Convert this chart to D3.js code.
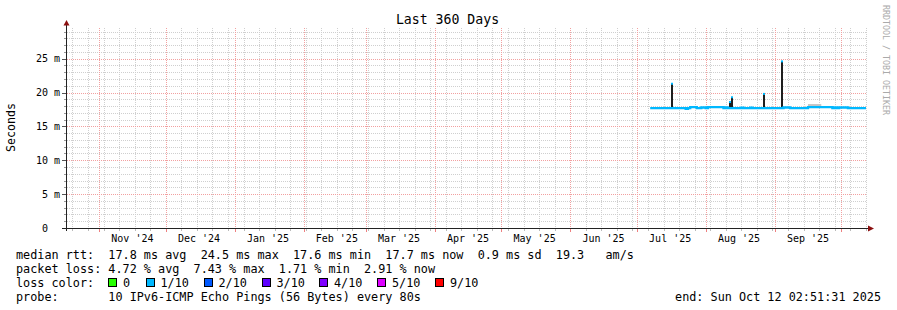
<!DOCTYPE html>
<html>
<head>
<meta charset="utf-8">
<script src="https://cdn.jsdelivr.net/npm/d3@7"></script>
<style>
  body { margin: 0; background: #fff; }
  svg text { font-family: "DejaVu Sans Mono", monospace; white-space: pre; fill: #000; }
</style>
</head>
<body>
<div id="chart"></div>
<script>
// time span of the graph (360 days)
var startTime = "2024-10-17T02:51:31Z",
	endTime = "2025-10-12T02:51:31Z";

var yTicks = [0, 5, 10, 15, 20, 25];
var yTickLabels = ["0  ", "5 m", "10 m", "15 m", "20 m", "25 m"];

// daily median rtt in ms, starting 2025-07-07
var medianStart = "2025-07-07";
var medianValues = [
	17.7, 17.7, 17.7, 17.7, 17.7, 17.7, 17.7, 17.7, 17.7, 17.7,
	17.7, 17.7, 17.7, 17.7, 17.7, 17.7, 17.6, 17.7, 17.85, 17.85,
	17.85, 17.7, 17.7, 17.8, 17.8, 17.7, 17.85, 17.85, 17.85, 17.85,
	17.85, 17.85, 17.85, 17.7, 17.8, 17.7, 17.7, 17.7, 17.7, 17.7,
	17.7, 17.75, 17.7, 17.7, 17.7, 17.75, 17.7, 17.7, 17.7, 17.7,
	17.7, 17.7, 17.7, 17.7, 17.7, 17.7, 17.7, 17.7, 17.7, 17.7,
	17.8, 17.8, 17.8, 17.7, 17.7, 17.7, 17.7, 17.7, 17.7, 17.7,
	17.7, 17.85, 17.85, 17.85, 17.85, 17.85, 17.85, 17.85, 17.85, 17.85,
	17.85, 17.85, 17.7, 17.8, 17.7, 17.8, 17.8, 17.8, 17.8, 17.7,
	17.7, 17.7, 17.7, 17.7, 17.7, 17.7, 17.7
];

// short bursts of high rtt (smoke)
var spikeDates = ["2025-07-17T00:00Z", "2025-08-12T00:00Z", "2025-08-13T00:00Z", "2025-08-27T00:00Z", "2025-09-04T12:00Z"];
var spikeValues = [21.3, 18.6, 19.3, 19.8, 24.6];

// wider grey smoke band
var smokeFrom = ["2025-09-16"], smokeTo = ["2025-09-22"], smokeTop = [18.3];

var lossLabels = ["0", "1/10", "2/10", "3/10", "4/10", "5/10", "9/10"];
var lossColors = ["#26ff00", "#00b8ff", "#0059ff", "#5e00ff", "#7e00ff", "#dd00ff", "#ff0000"];

var legendRtt = "median rtt:  17.8 ms avg  24.5 ms max  17.6 ms min  17.7 ms now  0.9 ms sd  19.3   am/s";
var legendLoss = "packet loss: 4.72 % avg  7.43 % max  1.71 % min  2.91 % now";
var legendProbe = "probe:       10 IPv6-ICMP Echo Pings (56 Bytes) every 80s";
var legendEnd = "end: Sun Oct 12 02:51:31 2025";

var width = 897,
	height = 310;

var t0 = new Date(startTime), t1 = new Date(endTime);

var x = d3.scaleUtc()
	.domain([t0, t1])
	.range([66, 866]);

var y = d3.scaleLinear()
	.domain([0, 29.53])
	.range([228, 28]);

var svg = d3.select("#chart").append("svg")
	.attr("width", width)
	.attr("height", height);

function px(v) { return Math.round(v) + 0.5; }

// grid
var grid = svg.append("g").attr("shape-rendering", "crispEdges");

d3.range(1, 30).filter(function(v) { return v % 5 != 0; }).forEach(function(v) {
	grid.append("line")
		.attr("x1", 67).attr("x2", 866)
		.attr("y1", px(y(v))).attr("y2", px(y(v)))
		.attr("stroke", "#cfcfcf").attr("stroke-dasharray", "1,1");
	grid.append("line")
		.attr("x1", 64).attr("x2", 66)
		.attr("y1", px(y(v))).attr("y2", px(y(v)))
		.attr("stroke", "#999");
});

var weeks = d3.utcSunday.range(t0, t1);
weeks.forEach(function(d) {
	grid.append("line")
		.attr("x1", px(x(d))).attr("x2", px(x(d)))
		.attr("y1", 28).attr("y2", 228)
		.attr("stroke", "#cfcfcf").attr("stroke-dasharray", "1,1");
	grid.append("line")
		.attr("x1", px(x(d))).attr("x2", px(x(d)))
		.attr("y1", 228).attr("y2", 231)
		.attr("stroke", "#bbb");
});

var months = d3.utcMonth.range(t0, t1);
months.forEach(function(d) {
	grid.append("line")
		.attr("x1", px(x(d))).attr("x2", px(x(d)))
		.attr("y1", 28).attr("y2", 228)
		.attr("stroke", "#f2a0a0").attr("stroke-dasharray", "1,1");
	grid.append("line")
		.attr("x1", px(x(d))).attr("x2", px(x(d)))
		.attr("y1", 228).attr("y2", 232)
		.attr("stroke", "#ee8080");
});

yTicks.forEach(function(v, i) {
	if (v > 0) {
		grid.append("line")
			.attr("x1", 67).attr("x2", 866)
			.attr("y1", px(y(v))).attr("y2", px(y(v)))
			.attr("stroke", "#f2a0a0").attr("stroke-dasharray", "1,1");
	}
	grid.append("line")
		.attr("x1", 62).attr("x2", 66)
		.attr("y1", px(y(v))).attr("y2", px(y(v)))
		.attr("stroke", "#555");
	svg.append("text")
		.attr("x", 60)
		.attr("y", y(v) + 3.5)
		.attr("text-anchor", "end")
		.style("font-size", "10px")
		.text(yTickLabels[i]);
});

// month labels sit in the middle of each month
var labelMonths = d3.utcMonth.range(d3.utcMonth.floor(t0), t1)
	.map(function(d) { return d3.utcDay.offset(d, 15); })
	.filter(function(d) { return d > t0 && d < t1; });

svg.append("g").selectAll("text")
	.data(labelMonths)
  .enter().append("text")
	.attr("x", function(d) { return x(d); })
	.attr("y", 241.5)
	.attr("text-anchor", "middle")
	.style("font-size", "10px")
	.text(function(d) { return d3.utcFormat("%b '%y")(d3.utcDay.offset(d, -15)); });

// smoke
var smoke = svg.append("g");
smokeFrom.forEach(function(d, i) {
	smoke.append("rect")
		.attr("x", x(new Date(d)))
		.attr("width", x(new Date(smokeTo[i])) - x(new Date(d)))
		.attr("y", y(smokeTop[i]))
		.attr("height", y(17.8) - y(smokeTop[i]))
		.attr("fill", "#c4c4c4");
});

smoke.selectAll(".spike")
	.data(spikeDates)
  .enter().append("rect")
	.attr("class", "spike")
	.attr("x", function(d) { return Math.round(x(new Date(d))) - 1; })
	.attr("width", 2)
	.attr("y", function(d, i) { return y(spikeValues[i]); })
	.attr("height", function(d, i) { return y(17.6) - y(spikeValues[i]); })
	.attr("fill", "#1e1e1e");

// median line
var mStart = new Date(medianStart + "T00:00Z");
var medianData = medianValues.map(function(v, i) { return [d3.utcDay.offset(mStart, i), v]; });
medianData.push([t1, medianValues[medianValues.length - 1]]);

var line = d3.line()
	.x(function(d) { return x(d[0]); })
	.y(function(d) { return y(d[1]); })
	.curve(d3.curveStepAfter);

svg.append("path")
	.datum(medianData)
	.attr("d", line)
	.attr("fill", "none")
	.attr("stroke", lossColors[1])
	.attr("stroke-width", 2.4);

smoke.selectAll(".tip")
	.data(spikeDates)
  .enter().append("rect")
	.attr("class", "tip")
	.attr("x", function(d) { return Math.round(x(new Date(d))) - 1; })
	.attr("width", 2)
	.attr("y", function(d, i) { return y(spikeValues[i]) - 1; })
	.attr("height", 2)
	.attr("fill", lossColors[1]);

// axes
svg.append("line")
	.attr("x1", 66.5).attr("x2", 66.5)
	.attr("y1", 231).attr("y2", 24)
	.attr("stroke", "#222");
svg.append("line")
	.attr("x1", 62).attr("x2", 869)
	.attr("y1", 228.5).attr("y2", 228.5)
	.attr("stroke", "#222");
svg.append("path")
	.attr("d", "M63.5,25.5 L66.5,20 L69.5,25.5 Z")
	.attr("fill", "#8b1010");
svg.append("path")
	.attr("d", "M868,225.5 L874,228.5 L868,231.5 Z")
	.attr("fill", "#8b1010");

// titles
svg.append("text")
	.attr("x", 447.5)
	.attr("y", 24)
	.attr("text-anchor", "middle")
	.style("font-size", "13.2px")
	.text("Last 360 Days");

svg.append("text")
	.attr("transform", "translate(14.5,127.5) rotate(-90)")
	.attr("text-anchor", "middle")
	.style("font-size", "11.6px")
	.text("Seconds");

svg.append("text")
	.attr("transform", "translate(883,5) rotate(90)")
	.style("font-size", "8.3px")
	.style("fill", "#aaa")
	.text("RRDTOOL / TOBI OETIKER");

// legend
var legend = svg.append("g").style("font-size", "11.8px");

legend.append("text").attr("x", 16).attr("y", 258.5).text(legendRtt);
legend.append("text").attr("x", 16).attr("y", 272.5).text(legendLoss);
legend.append("text").attr("x", 16).attr("y", 286.5).text("loss color:");
legend.append("text").attr("x", 16).attr("y", 300.5).text(legendProbe);
legend.append("text").attr("x", 881).attr("y", 300.5).attr("text-anchor", "end").text(legendEnd);

var boxX = [108, 145.5, 203.5, 261.5, 319, 377, 435];
lossLabels.forEach(function(l, i) {
	legend.append("rect")
		.attr("x", Math.round(boxX[i]) + 0.5)
		.attr("y", 278.5)
		.attr("width", 8)
		.attr("height", 8)
		.attr("fill", lossColors[i])
		.attr("stroke", "#000");
	legend.append("text")
		.attr("x", boxX[i] + 15)
		.attr("y", 286.5)
		.text(l);
});
</script>
</body>
</html>
